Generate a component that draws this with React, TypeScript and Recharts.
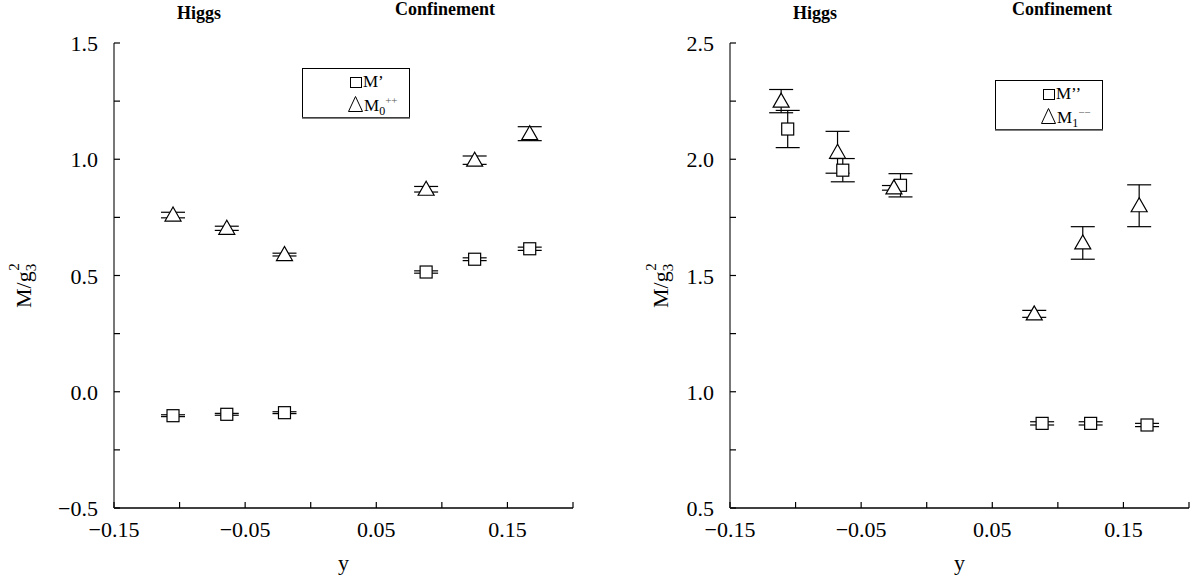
import React from 'react';
import { ScatterChart, Scatter, XAxis, YAxis, ErrorBar } from 'recharts';

const FONT = '"Liberation Serif", "Times New Roman", serif';

// shared x axis
const xTicks = [-0.15, -0.1, -0.05, 0, 0.05, 0.1, 0.15, 0.2];
const xLabeled = [-0.15, -0.05, 0.05, 0.15];

// left panel: M' (squares) and M0++ (triangles)
const leftYTicks = [-0.5, -0.25, 0, 0.25, 0.5, 0.75, 1, 1.25, 1.5];
const leftYLabeled = [-0.5, 0, 0.5, 1, 1.5];
const leftX = [-0.105, -0.064, -0.02, 0.088, 0.125, 0.167];
const mPrime = [-0.103, -0.097, -0.09, 0.515, 0.57, 0.615];
const mPrimeErr = [0.004, 0.004, 0.004, 0.005, 0.006, 0.007];
const m0 = [0.76, 0.703, 0.59, 0.871, 0.996, 1.11];
const m0Err = [0.012, 0.009, 0.006, 0.012, 0.018, 0.03];

// right panel: M'' (squares) and M1-- (triangles)
const rightYTicks = [0.5, 0.75, 1, 1.25, 1.5, 1.75, 2, 2.25, 2.5];
const rightYLabeled = [0.5, 1, 1.5, 2, 2.5];
const rightSqX = [-0.106, -0.064, -0.02, 0.088, 0.125, 0.168];
const mDouble = [2.13, 1.953, 1.888, 0.864, 0.864, 0.857];
const mDoubleErr = [0.08, 0.05, 0.05, 0.007, 0.007, 0.007];
const rightTriX = [-0.111, -0.068, -0.025, 0.082, 0.119, 0.162];
const m1 = [2.25, 2.03, 1.877, 1.335, 1.64, 1.8];
const m1Err = [0.05, 0.09, 0.01, 0.015, 0.07, 0.09];

const zip = (xs: number[], ys: number[], es: number[]) =>
  xs.map((x, i) => ({ x, y: ys[i], err: es[i] }));

const near = (list: number[], v: number) => list.some((l) => Math.abs(l - v) < 1e-9);
const fmt = (v: number, d: number) => (v < 0 ? '\u2212' : '') + Math.abs(v).toFixed(d);

const TICK = 6;
const PLOT_L = 114;
const PLOT_R = 573;
const PLOT_T = 43;
const PLOT_B = 508;
const H = 579;

const squareShape = (p: any) => (
  <rect x={p.cx - 6} y={p.cy - 6} width={12} height={12} fill="#fff" stroke="#000" strokeWidth={1.2} />
);
const triangleShape = (p: any) => (
  <polygon
    points={`${p.cx},${p.cy - 8} ${p.cx - 8},${p.cy + 6} ${p.cx + 8},${p.cy + 6}`}
    fill="#fff"
    stroke="#000"
    strokeWidth={1.2}
  />
);

const BottomTick = (p: any) => {
  const v = p.payload.value;
  return (
    <g>
      <line x1={p.x} y1={p.y} x2={p.x} y2={p.y - TICK} stroke="#000" strokeWidth={1.2} />
      {near(xLabeled, v) && (
        <text x={p.x} y={p.y + 29} textAnchor="middle" fontSize={22} fontFamily={FONT} fill="#000">
          {fmt(v, 2)}
        </text>
      )}
    </g>
  );
};
const TopTick = (p: any) => (
  <line x1={p.x} y1={p.y} x2={p.x} y2={p.y + TICK} stroke="#000" strokeWidth={1.2} />
);
const makeLeftTick = (labeled: number[]) => (p: any) => {
  const v = p.payload.value;
  return (
    <g>
      <line x1={p.x} y1={p.y} x2={p.x + TICK} y2={p.y} stroke="#000" strokeWidth={1.2} />
      {near(labeled, v) && (
        <text x={p.x - 16} y={p.y + 8} textAnchor="end" fontSize={22} fontFamily={FONT} fill="#000">
          {fmt(v, 1)}
        </text>
      )}
    </g>
  );
};
const RightTick = (p: any) => (
  <line x1={p.x} y1={p.y} x2={p.x - TICK} y2={p.y} stroke="#000" strokeWidth={1.2} />
);

const XTitle = (p: any) => {
  const vb = p.viewBox;
  return (
    <text x={vb.x + vb.width / 2} y={vb.y + 62} textAnchor="middle" fontSize={22} fontFamily={FONT}>
      y
    </text>
  );
};
const YTitle = ({ cx }: { cx: number }) => {
  const cy = 308;
  return (
    <text x={cx} y={cy} transform={`rotate(-90, ${cx}, ${cy})`} fontSize={22} fontFamily={FONT} textAnchor="start">
      M/g
      <tspan fontSize={15} dy={5}>3</tspan>
      <tspan fontSize={15} dx={-7} dy={-17}>2</tspan>
    </text>
  );
};

type PanelProps = {
  left: number;
  width: number;
  titleX: number;
  yDomain: [number, number];
  yTicks: number[];
  yLabeled: number[];
  squares: { x: number; y: number; err: number }[];
  triangles: { x: number; y: number; err: number }[];
};

function Panel({ left, width, titleX, yDomain, yTicks, yLabeled, squares, triangles }: PanelProps) {
  const axisH = { stroke: '#000', strokeWidth: 1.5 };
  const axisV = { stroke: '#777', strokeWidth: 2 };
  return (
    <div style={{ position: 'absolute', left, top: 0 }}>
      <ScatterChart
        width={width}
        height={H}
        margin={{ top: PLOT_T, right: width - PLOT_R, bottom: 0, left: 0 }}
      >
        <XAxis
          xAxisId="b"
          type="number"
          dataKey="x"
          domain={[-0.15, 0.2]}
          ticks={xTicks}
          interval={0}
          height={H - PLOT_B}
          tickSize={0}
          tickMargin={0}
          tickLine={false}
          axisLine={axisH}
          tick={(p: any) => <BottomTick {...p} />}
          label={{ content: (p: any) => <XTitle {...p} /> }}
          allowDataOverflow
        />
        <XAxis
          xAxisId="t"
          orientation="top"
          type="number"
          domain={[-0.15, 0.2]}
          ticks={xTicks}
          interval={0}
          height={0}
          tickSize={0}
          tickMargin={0}
          tickLine={false}
          axisLine={axisH}
          tick={(p: any) => <TopTick {...p} />}
          allowDataOverflow
        />
        <YAxis
          yAxisId="l"
          type="number"
          dataKey="y"
          domain={yDomain}
          ticks={yTicks}
          interval={0}
          width={PLOT_L}
          tickSize={0}
          tickMargin={0}
          tickLine={false}
          axisLine={axisV}
          tick={makeLeftTick(yLabeled)}
          label={{ content: () => <YTitle cx={titleX} /> }}
          allowDataOverflow
        />
        <YAxis
          yAxisId="r"
          orientation="right"
          type="number"
          domain={yDomain}
          ticks={yTicks}
          interval={0}
          width={0}
          tickSize={0}
          tickMargin={0}
          tickLine={false}
          axisLine={axisV}
          tick={(p: any) => <RightTick {...p} />}
          allowDataOverflow
        />
        <Scatter xAxisId="b" yAxisId="l" data={squares} shape={squareShape} isAnimationActive={false}>
          <ErrorBar dataKey="err" direction="y" width={12} stroke="#000" strokeWidth={1.2} isAnimationActive={false} />
        </Scatter>
        <Scatter xAxisId="b" yAxisId="l" data={triangles} shape={triangleShape} isAnimationActive={false}>
          <ErrorBar dataKey="err" direction="y" width={12} stroke="#000" strokeWidth={1.2} isAnimationActive={false} />
        </Scatter>
      </ScatterChart>
    </div>
  );
}

const titleStyle: React.CSSProperties = {
  position: 'absolute',
  fontFamily: FONT,
  fontWeight: 'bold',
  fontSize: 18,
  transform: 'translateX(-50%)',
  whiteSpace: 'nowrap',
  lineHeight: '18px',
};

function LegendBox({ left, top, first, sub, sup }: { left: number; top: number; first: string; sub: string; sup: string }) {
  return (
    <svg
      style={{ position: 'absolute', left, top }}
      width={109}
      height={51}
    >
      <rect x={0.5} y={0.5} width={107} height={49} fill="#fff" stroke="#000" strokeWidth={1} />
      <line x1={0} y1={50} x2={108} y2={50} stroke="#555" strokeWidth={1.5} />
      <rect x={48.5} y={9.5} width={11} height={10} fill="#fff" stroke="#000" strokeWidth={1} />
      <text x={61} y={19} fontSize={17} fontFamily={FONT}>{first}</text>
      <polygon points="53.5,28.5 46.5,43.5 60.5,43.5" fill="#fff" stroke="#000" strokeWidth={1} />
      <text x={62} y={43} fontSize={17} fontFamily={FONT}>
        M
        <tspan fontSize={12} dy={4}>{sub}</tspan>
        <tspan fontSize={11} dy={-11} fill="#555">{sup}</tspan>
      </text>
    </svg>
  );
}

export default function App() {
  return (
    <div style={{ position: 'absolute', left: 0, top: 0, width: 1194, height: 579, background: '#fff', overflow: 'hidden' }}>
      <Panel
        left={0}
        width={597}
        titleX={31}
        yDomain={[-0.5, 1.5]}
        yTicks={leftYTicks}
        yLabeled={leftYLabeled}
        squares={zip(leftX, mPrime, mPrimeErr)}
        triangles={zip(leftX, m0, m0Err)}
      />
      <Panel
        left={616}
        width={578}
        titleX={52}
        yDomain={[0.5, 2.5]}
        yTicks={rightYTicks}
        yLabeled={rightYLabeled}
        squares={zip(rightSqX, mDouble, mDoubleErr)}
        triangles={zip(rightTriX, m1, m1Err)}
      />
      <div style={{ ...titleStyle, left: 199, top: 4 }}>Higgs</div>
      <div style={{ ...titleStyle, left: 445, top: 0 }}>Confinement</div>
      <div style={{ ...titleStyle, left: 815, top: 4 }}>Higgs</div>
      <div style={{ ...titleStyle, left: 1062, top: 0 }}>Confinement</div>
      <LegendBox left={302} top={68} first={'M\u2019'} sub="0" sup="++" />
      <LegendBox left={995} top={80} first={'M\u2019\u2019'} sub="1" sup={'\u2212\u2212'} />
    </div>
  );
}
